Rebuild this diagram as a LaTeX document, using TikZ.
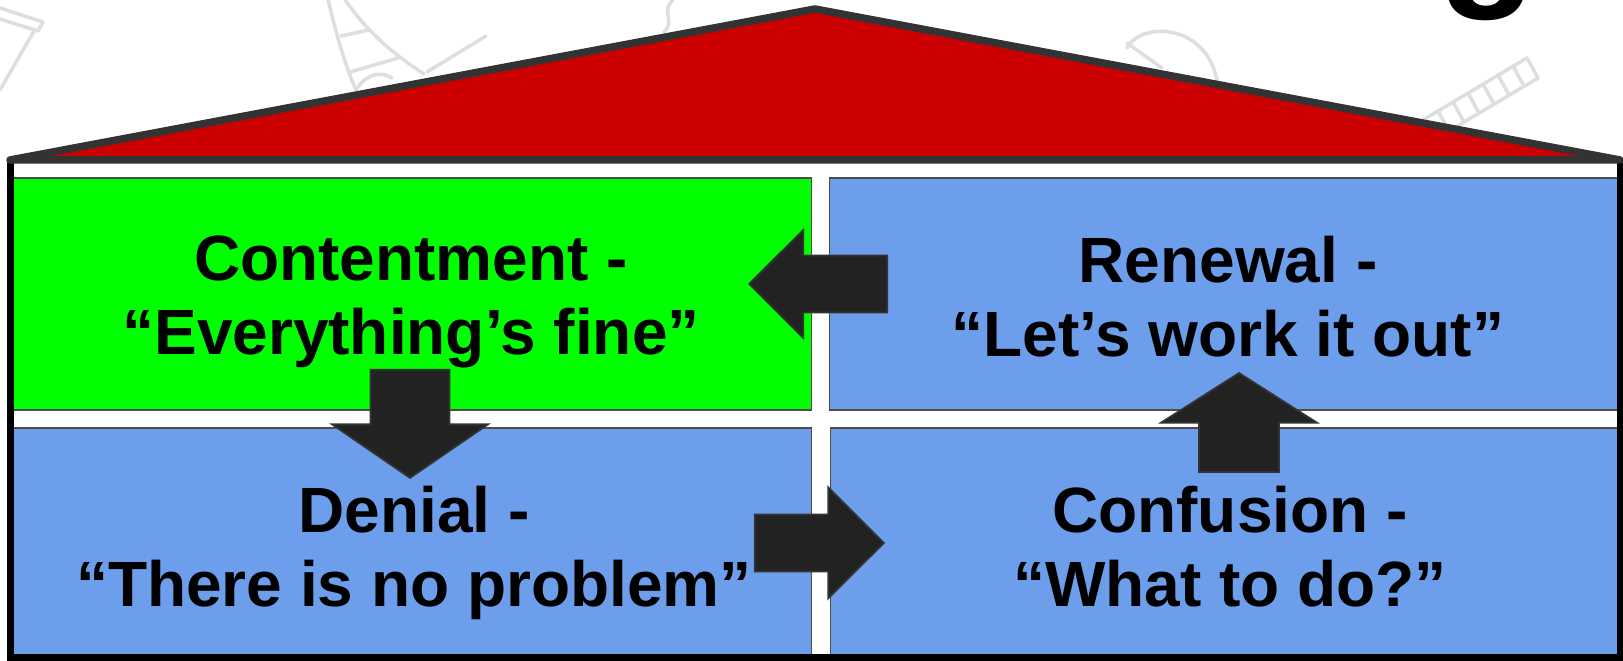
\documentclass[tikz,border=0pt]{standalone}
\usepackage{fontspec}
\setmainfont{Liberation Sans}
\usetikzlibrary{shapes.arrows}
\definecolor{roofred}{RGB}{204, 0, 0}
\definecolor{roofline}{RGB}{51, 51, 51}
\definecolor{happygreen}{RGB}{0, 255, 0}
\definecolor{stageblue}{RGB}{109, 158, 235}
\definecolor{arrowdark}{RGB}{34, 34, 34}
\definecolor{doodlegray}{RGB}{222, 222, 222}

\tikzset{
    stagebox/.style={rectangle,draw=black!70,line width=0.4pt,inner sep=0pt},
    stagetext/.style={align=center,inner sep=0pt,font=\fontsize{18.2}{21}\selectfont\bfseries},
    blockarrow/.style={single arrow,fill=arrowdark,draw=roofline,line width=0.5pt,
        inner xsep=0pt,anchor=tip},
    doodle/.style={doodlegray,line width=1pt,line cap=round,line join=round}
}

\begin{document}
\begin{tikzpicture}[x=0.01cm,y=-0.01cm]
    \useasboundingbox (0,0) rectangle (1623,661);
    \fill[white] (0,0) rectangle (1623,661);

    % faint sketches behind the house
    \draw[doodle] (0,8) -- (43,22) -- (38,31) -- (0,19);
    \draw[doodle] (34,31) -- (0,90);
    \draw[doodle] (328,0) .. controls (338,40) and (345,65) .. (356,90);
    \draw[doodle] (345,0) .. controls (370,35) and (395,55) .. (424,74);
    \draw[doodle] (341,36) -- (369,30);
    \draw[doodle] (350,72) -- (398,58);
    \draw[doodle] (356,90) .. controls (365,75) and (380,70) .. (392,78);
    \draw[doodle] (427,72) -- (486,36);
    \draw[doodle] (673,0) .. controls (660,12) and (676,20) .. (664,32);
    \draw[doodle] (1127,48) .. controls (1140,22) and (1205,22) .. (1217,80);
    \draw[doodle] (1127,43) -- (1162,68);
    \draw[doodle] (1423,120) -- (1527,58) -- (1538,78) -- (1434,140) -- cycle;
    \foreach \k in {1,...,6}
        \draw[doodle] ({1423+15*\k},{120-9*\k}) -- ({1434+15*\k},{140-9*\k});

    % piece of the title letter above
    \node[inner sep=0pt,anchor=south,font=\fontsize{46}{46}\selectfont\bfseries] (titleg) at (1488,21) {g};

    % the four rooms of the house
    \node[stagebox,fill=happygreen,minimum width=7.98cm,minimum height=2.32cm] (content) at (412,294) {};
    \node[stagebox,fill=stageblue,minimum width=7.87cm,minimum height=2.32cm] (renewal) at (1223.5,294) {};
    \node[stagebox,fill=stageblue,minimum width=7.98cm,minimum height=2.27cm] (denial) at (412,541.5) {};
    \node[stagebox,fill=stageblue,minimum width=7.86cm,minimum height=2.27cm] (confusion) at (1224,541.5) {};

    \node[stagetext] (contentText) at (411,302) {Contentment -\\“Everything’s fine”};
    \node[stagetext] (renewalText) at (1228,297) {Renewal -\\“Let’s work it out”};
    \node[stagetext] (denialText) at (414,553) {Denial -\\“There is no problem”};
    \node[stagetext] (confusionText) at (1230,547) {Confusion -\\“What to do?”};

    % walls
    \draw[black,line width=0.07cm] (10.5,160) -- (10.5,658) -- (1620,658) -- (1620,160);

    % roof
    \filldraw[fill=roofred,draw=roofline,line width=0.075cm,line join=round,line cap=round]
        (10,160) -- (815,9) -- (1620,160) -- cycle;

    % the cycle of arrows between the rooms
    \node[blockarrow,rotate=180,minimum height=1.38cm,inner ysep=0.275cm,
        single arrow head extend=0.255cm,single arrow tip angle=90] (toContent) at (748,284) {};
    \node[blockarrow,rotate=-90,minimum height=1.08cm,inner ysep=0.385cm,
        single arrow head extend=0.385cm,single arrow tip angle=111] (toDenial) at (410,479) {};
    \node[blockarrow,minimum height=1.29cm,inner ysep=0.275cm,
        single arrow head extend=0.27cm,single arrow tip angle=90] (toConfusion) at (885,543) {};
    \node[blockarrow,rotate=90,minimum height=0.99cm,inner ysep=0.39cm,
        single arrow head extend=0.38cm,single arrow tip angle=115] (toRenewal) at (1239,372) {};
\end{tikzpicture}
\end{document}
